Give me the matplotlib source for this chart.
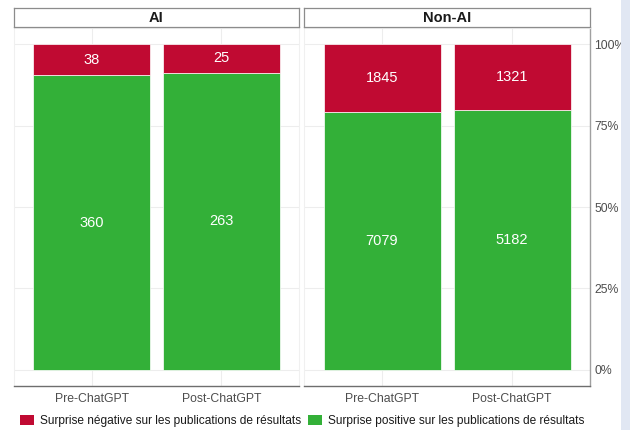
import matplotlib
matplotlib.use("Agg")
import matplotlib.pyplot as plt
from matplotlib.patches import Patch, Rectangle
import numpy as np

plt.rcParams['font.family'] = ['Liberation Sans', 'DejaVu Sans']

panels = ["AI", "Non-AI"]
periods = ["Pre-ChatGPT", "Post-ChatGPT"]
neg_counts = {"AI": [38, 25], "Non-AI": [1845, 1321]}
pos_counts = {"AI": [360, 263], "Non-AI": [7079, 5182]}
legend_labels = ["Surprise négative sur les publications de résultats",
                 "Surprise positive sur les publications de résultats"]
ytick_vals = [0, 0.25, 0.5, 0.75, 1.0]
ytick_labels = ["0%", "25%", "50%", "75%", "100%"]

RED = "#C00A32"
GREEN = "#33B038"
W, H = 630, 430

fig = plt.figure(figsize=(W / 100, H / 100), dpi=100)

def fx(px):
    return px / W

def fy(px_top):
    return 1 - px_top / H

panel_x = [(14, 299), (304, 590)]
ptop, pbot = 28, 386
stop, sbot = 8, 27

for i, name in enumerate(panels):
    x0, x1 = panel_x[i]
    ax = fig.add_axes([fx(x0), fy(pbot), fx(x1 - x0), (pbot - ptop) / H])
    neg = np.array(neg_counts[name], dtype=float)
    pos = np.array(pos_counts[name], dtype=float)
    tot = neg + pos
    xs = np.arange(1, len(periods) + 1)
    pfrac = pos / tot
    nfrac = neg / tot
    ax.bar(xs, pfrac, width=0.9, color=GREEN, edgecolor="white", linewidth=0.5, zorder=2)
    ax.bar(xs, nfrac, bottom=pfrac, width=0.9, color=RED, edgecolor="white", linewidth=0.5, zorder=2)
    for j in range(len(xs)):
        ax.text(xs[j], pfrac[j] / 2, f"{int(pos[j])}", color="white", ha="center", va="center", fontsize=10.5, zorder=3)
        ax.text(xs[j], pfrac[j] + nfrac[j] / 2, f"{int(neg[j])}", color="white", ha="center", va="center", fontsize=10.5, zorder=3)
    ax.set_xlim(0.4, 2.6)
    ax.set_ylim(-0.05, 1.05)
    ax.set_xticks(xs)
    ax.set_xticklabels(periods, color="#4D4D4D", fontsize=8.8)
    ax.set_yticks(ytick_vals)
    ax.grid(True, color="#EDEDED", linewidth=0.8, zorder=0)
    ax.set_axisbelow(True)
    ax.tick_params(axis="x", length=0, pad=5)
    ax.tick_params(axis="y", length=0, pad=3)
    for s in ["top", "left", "right"]:
        ax.spines[s].set_color("#F0F0F0")
        ax.spines[s].set_linewidth(0.8)
    ax.spines["bottom"].set_color("#6E6E6E")
    ax.spines["bottom"].set_linewidth(1.0)
    if i == 1:
        ax.yaxis.tick_right()
        ax.set_yticklabels(ytick_labels, color="#4D4D4D", fontsize=8.8)
        ax.spines["right"].set_color("#A0A0A0")
        ax.spines["right"].set_linewidth(1.0)
    else:
        ax.set_yticklabels([])
    # strip
    sax = fig.add_axes([fx(x0), fy(sbot), fx(x1 - x0), (sbot - stop) / H])
    sax.set_xticks([])
    sax.set_yticks([])
    for s in sax.spines.values():
        s.set_color("#8C8C8C")
        s.set_linewidth(0.9)
    sax.text(0.5, 0.5, name, ha="center", va="center", fontsize=10.5, fontweight="bold", color="#1A1A1A",
             transform=sax.transAxes)

handles = [Patch(facecolor=RED, edgecolor="none"), Patch(facecolor=GREEN, edgecolor="none")]
fig.legend(handles, legend_labels, loc="center", bbox_to_anchor=(fx(302), fy(421)), ncol=2, frameon=False,
           fontsize=8.6, handlelength=1.2, handleheight=1.0, handletextpad=0.45, columnspacing=0.6,
           labelcolor="#1A1A1A", borderaxespad=0, borderpad=0)

fig.patches.append(Rectangle((fx(621), 0), 1 - fx(621), 1, transform=fig.transFigure,
                             facecolor="#E1E7F3", edgecolor="none", zorder=10))

fig.savefig("out.png", dpi=100, facecolor="white")
